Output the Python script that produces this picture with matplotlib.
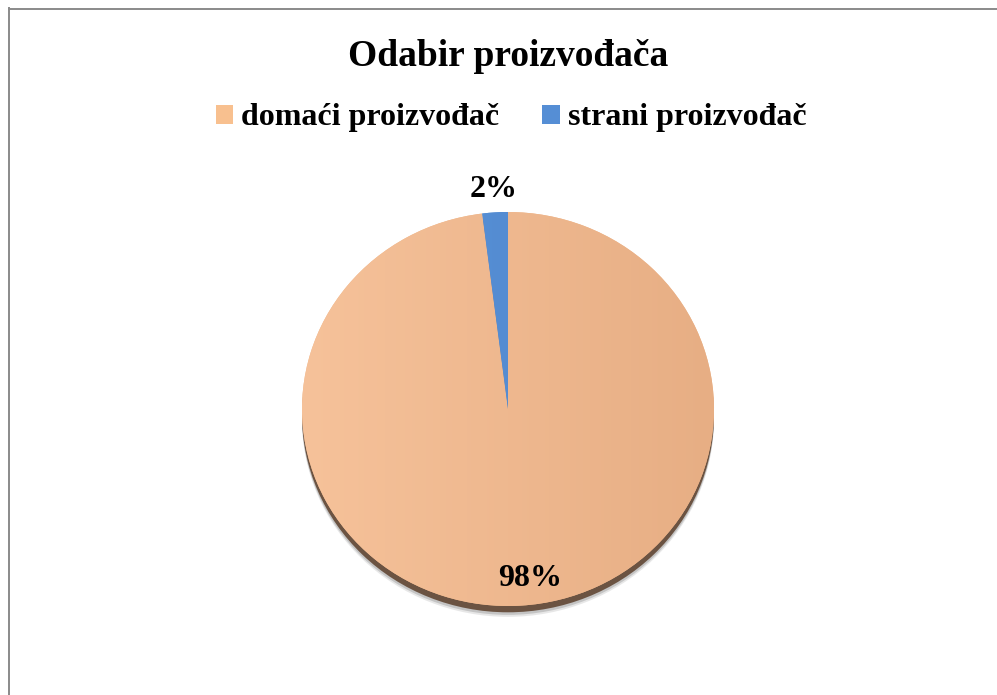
import numpy as np
import matplotlib
matplotlib.use("Agg")
import matplotlib.pyplot as plt
from matplotlib.patches import Patch, Ellipse
from matplotlib.lines import Line2D
from matplotlib.colors import LinearSegmentedColormap

title = "Odabir proizvođača"
categories = ["domaći proizvođač", "strani proizvođač"]
values = [98, 2]
pct_labels = ["98%", "2%"]

base_colors = ["#F0B98E", "#558ED5"]
grad_colors = [("#F6C29A", "#E7AE84"), ("#5A93D9", "#4F86CC")]
legend_colors = ["#F8C08F", "#558ED5"]

W, H = 997, 695
fig = plt.figure(figsize=(W / 100, H / 100), dpi=100)
fig.patch.set_facecolor("white")

# frame border (top and left visible)
fig.add_artist(Line2D([8.5 / W, 8.5 / W], [0, 1 - 8 / H], color="#8A8A8A", lw=1.4))
fig.add_artist(Line2D([8.5 / W, 1], [1 - 8.5 / H, 1 - 8.5 / H], color="#8A8A8A", lw=1.4))

cx, cy, rx, ry = 508, 409, 206, 197
ax = fig.add_axes([0, 0, 1, 1])
ax.axis("off")

# shadow under pie
for off, col, a in [(0.055, "#BDBDBD", 0.35), (0.045, "#9A9A9A", 0.45), (0.032, "#6B5342", 1.0)]:
    ax.add_patch(Ellipse((0, -off), 2.0, 2.0, facecolor=col, edgecolor="none", alpha=a, zorder=1))

wedges, _ = ax.pie(values, colors=base_colors, startangle=90, counterclock=False,
                   radius=1.0, wedgeprops=dict(linewidth=0, zorder=2))
ax.set_aspect("auto")

xx = np.linspace(0, 1, 256)[None, :]
for w, (c1, c2) in zip(wedges, grad_colors):
    cmap = LinearSegmentedColormap.from_list("g", [c1, c2])
    im = ax.imshow(xx, cmap=cmap, extent=(-1, 1, -1, 1), aspect="auto", zorder=3, interpolation="bilinear")
    im.set_clip_path(w)

ax.set_xlim((0 - cx) / rx, (W - cx) / rx)
ax.set_ylim((cy - H) / ry, (cy - 0) / ry)

# percentage labels
font = dict(family="Liberation Serif", fontweight="bold", fontsize=23, color="black")
cum = 0
for v, lab in zip(values, pct_labels):
    mid = 90 - (cum + v / 2) / sum(values) * 360
    cum += v
    ang = np.deg2rad(mid)
    if v / sum(values) > 0.5:
        r, dx = 0.86, 0.055
    else:
        r, dx = 1.115, 0.0
    ax.text(r * np.cos(ang) + dx, r * np.sin(ang), lab, ha="center", va="center", zorder=5, **font)

fig.text(508 / W, 1 - 66 / H, title, ha="center", va="baseline",
         family="Liberation Serif", fontweight="bold", fontsize=27)

handles = [Patch(facecolor=c, edgecolor="none") for c in legend_colors]
fig.legend(handles, categories, loc="center", bbox_to_anchor=(511 / W, 1 - 118 / H), ncol=2,
           frameon=False, prop=dict(family="Liberation Serif", weight="bold", size=23),
           handlelength=0.55, handleheight=0.55, handletextpad=0.25, columnspacing=1.35)

fig.savefig("out.png", dpi=100)
